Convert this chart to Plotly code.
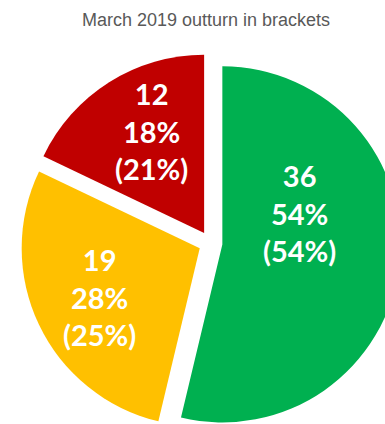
import plotly.graph_objects as go

# RAG status counts with the March 2019 outturn shares (per cent)
categories = ["Green", "Amber", "Red"]
counts = [36, 19, 12]
outturn_pct = [54, 25, 21]
colors = ["#00B050", "#FFC000", "#C00000"]

W, H = 410, 440
cx, cy, box = 210.5, 243, 380  # pie box centre and size in pixels

# label centres (pixels from top-left) for each slice's value block
label_pos_px = [(299, 213), (99, 297), (151, 131)]

total = sum(counts)

fig = go.Figure(
    go.Pie(
        labels=categories,
        values=counts,
        sort=False,
        direction="clockwise",
        rotation=0,
        pull=[0.067, 0.067, 0.067],
        marker=dict(colors=colors, line=dict(width=0)),
        textinfo="none",
        hoverinfo="skip",
        showlegend=False,
        domain=dict(
            x=[(cx - box / 2) / W, (cx + box / 2) / W],
            y=[1 - (cy + box / 2) / H, 1 - (cy - box / 2) / H],
        ),
    )
)

for n, share, (px, py) in zip(counts, outturn_pct, label_pos_px):
    fig.add_annotation(
        text=f"{n}<br>{round(100 * n / total)}%<br>({share}%)",
        x=px / W,
        y=1 - py / H,
        xref="paper",
        yref="paper",
        xanchor="center",
        yanchor="middle",
        align="center",
        showarrow=False,
        font=dict(family="Lato", size=29, color="white", weight="bold"),
    )

fig.update_layout(
    width=W,
    height=H,
    margin=dict(l=0, r=0, t=0, b=0),
    paper_bgcolor="white",
    title=dict(
        text="March 2019 outturn in brackets",
        font=dict(family="Liberation Sans", size=18, color="#595959"),
        x=206 / W,
        xanchor="center",
        xref="paper",
        y=1 - 20 / H,
        yanchor="middle",
        yref="container",
    ),
)

fig.write_html(
    "out.html",
    post_script="document.documentElement.style.overflow='hidden';"
    "document.body.style.overflow='hidden';document.body.style.margin='0';",
)
